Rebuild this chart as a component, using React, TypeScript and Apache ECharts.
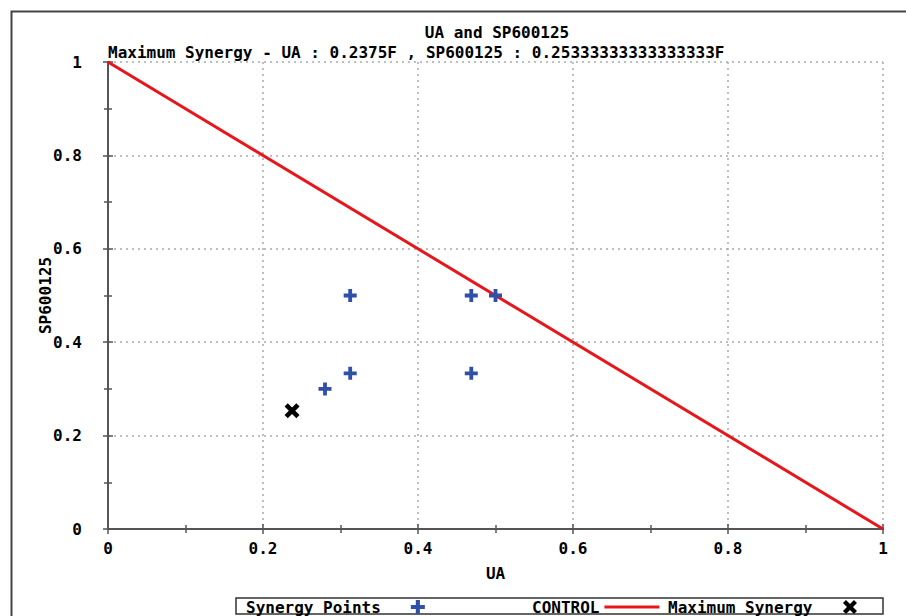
import React, { useEffect, useRef } from "react";
import * as echarts from "echarts";

const titleText = "UA and SP600125";
const subtitleText = "Maximum Synergy - UA : 0.2375F , SP600125 : 0.25333333333333333F";
const xName = "UA";
const yName = "SP600125";

const synergyPoints: [number, number][] = [
  [0.3125, 0.5],
  [0.46875, 0.5],
  [0.5, 0.5],
  [0.3125, 0.3333],
  [0.28, 0.3],
  [0.46875, 0.3333],
];
const controlLine: [number, number][] = [
  [0, 1],
  [1, 0],
];
const maxSynergy: [number, number][] = [[0.2375, 0.25333]];

const FONT = "DejaVu Sans Mono";
const PLUS = "path://M4.25,0H7.75V4.25H12V7.75H7.75V12H4.25V7.75H0V4.25H4.25Z";
const CROSS = "path://M0,3L3,0L7,4L11,0L14,3L10,7L14,11L11,14L7,10L3,14L0,11L4,7Z";

const axisColor = "#555";

function mirrorAxis(position: string) {
  return {
    type: "value",
    position,
    min: 0,
    max: 1,
    interval: 0.2,
    axisLine: { show: true, lineStyle: { color: axisColor, width: 2 } },
    axisTick: { show: true, inside: false, length: 5, lineStyle: { color: axisColor, width: 1.5 } },
    minorTick: { show: true, splitNumber: 2, length: 4, lineStyle: { color: axisColor, width: 1.5 } },
    axisLabel: { show: false },
    splitLine: { show: false },
  };
}

export default function App() {
  const ref = useRef<HTMLDivElement>(null);
  useEffect(() => {
    if (!ref.current) return;
    const chart = echarts.init(ref.current, undefined, { renderer: "svg" });
    const labelStyle = { color: "#000", fontFamily: FONT, fontWeight: "bold" as const, fontSize: 16 };
    const legendBase = {
      top: 599,
      padding: 0,
      align: "right",
      orient: "horizontal",
      selectedMode: false,
      itemHeight: 14,
      textStyle: labelStyle,
    };
    chart.setOption({
      animation: false,
      backgroundColor: "#fff",
      grid: { left: 108, right: 23, top: 62, bottom: 87 },
      xAxis: [
        {
          type: "value",
          position: "bottom",
          min: 0,
          max: 1,
          interval: 0.2,
          name: xName,
          nameLocation: "middle",
          nameGap: 36,
          nameMoveOverlap: false,
          nameTextStyle: labelStyle,
          axisLine: { show: true, onZero: false, lineStyle: { color: axisColor, width: 2 } },
          axisTick: { show: true, inside: false, length: 5, lineStyle: { color: axisColor, width: 1.5 } },
          minorTick: { show: true, splitNumber: 2, length: 4, lineStyle: { color: axisColor, width: 1.5 } },
          axisLabel: { ...labelStyle, margin: 11 },
          splitLine: { show: true, lineStyle: { color: "#aaa", type: [2, 4], width: 1.5 } },
        },
        { ...mirrorAxis("top") },
      ],
      yAxis: [
        {
          type: "value",
          position: "left",
          min: 0,
          max: 1,
          interval: 0.2,
          name: yName,
          nameLocation: "middle",
          nameGap: 55,
          nameMoveOverlap: false,
          nameRotate: 90,
          nameTextStyle: labelStyle,
          axisLine: { show: true, onZero: false, lineStyle: { color: axisColor, width: 2 } },
          axisTick: { show: true, inside: false, length: 5, lineStyle: { color: axisColor, width: 1.5 } },
          minorTick: { show: true, splitNumber: 2, length: 4, lineStyle: { color: axisColor, width: 1.5 } },
          axisLabel: { ...labelStyle, margin: 26 },
          splitLine: { show: true, lineStyle: { color: "#aaa", type: [2, 4], width: 1.5 } },
        },
        { ...mirrorAxis("right") },
      ],
      legend: [
        { ...legendBase, left: 246, itemWidth: 64, data: ["Synergy Points"] },
        {
          ...legendBase,
          left: 532,
          itemWidth: 55,
          itemStyle: { opacity: 0 },
          lineStyle: { opacity: 1, width: 3 },
          data: ["CONTROL"],
        },
        { ...legendBase, left: 668, itemWidth: 65, data: ["Maximum Synergy"] },
      ],
      graphic: [
        {
          type: "rect",
          left: 9,
          top: 9,
          shape: { x: 0, y: 0, width: 920, height: 640 },
          style: { fill: "none", stroke: "#444", lineWidth: 2 },
          silent: true,
        },
        {
          type: "rect",
          shape: { x: 236, y: 598, width: 647, height: 16 },
          style: { fill: "none", stroke: "#333", lineWidth: 1.5 },
          silent: true,
        },
        {
          type: "text",
          x: 497,
          y: 32,
          style: {
            text: titleText,
            fill: "#000",
            font: `bold 16px "${FONT}"`,
            textAlign: "center",
            textVerticalAlign: "middle",
          },
        },
        {
          type: "text",
          x: 108,
          y: 52,
          style: {
            text: subtitleText,
            fill: "#000",
            font: `bold 16px "${FONT}"`,
            textAlign: "left",
            textVerticalAlign: "middle",
          },
        },
      ],
      series: [
        {
          name: "CONTROL",
          type: "line",
          data: controlLine,
          symbol: "none",
          showSymbol: false,
          lineStyle: { color: "#e8161b", width: 3 },
          itemStyle: { color: "#e8161b" },
          z: 2,
        },
        {
          name: "Synergy Points",
          type: "scatter",
          data: synergyPoints,
          symbol: PLUS,
          symbolSize: 13,
          itemStyle: { color: "#2f4fa8", opacity: 1 },
          z: 3,
        },
        {
          name: "Maximum Synergy",
          type: "scatter",
          data: maxSynergy,
          symbol: CROSS,
          symbolSize: 15,
          itemStyle: { color: "#000", opacity: 1 },
          z: 4,
        },
      ],
    });
    return () => chart.dispose();
  }, []);
  return (
    <div
      ref={ref}
      style={{ position: "fixed", left: 0, top: 0, width: 906, height: 616 }}
    />
  );
}
